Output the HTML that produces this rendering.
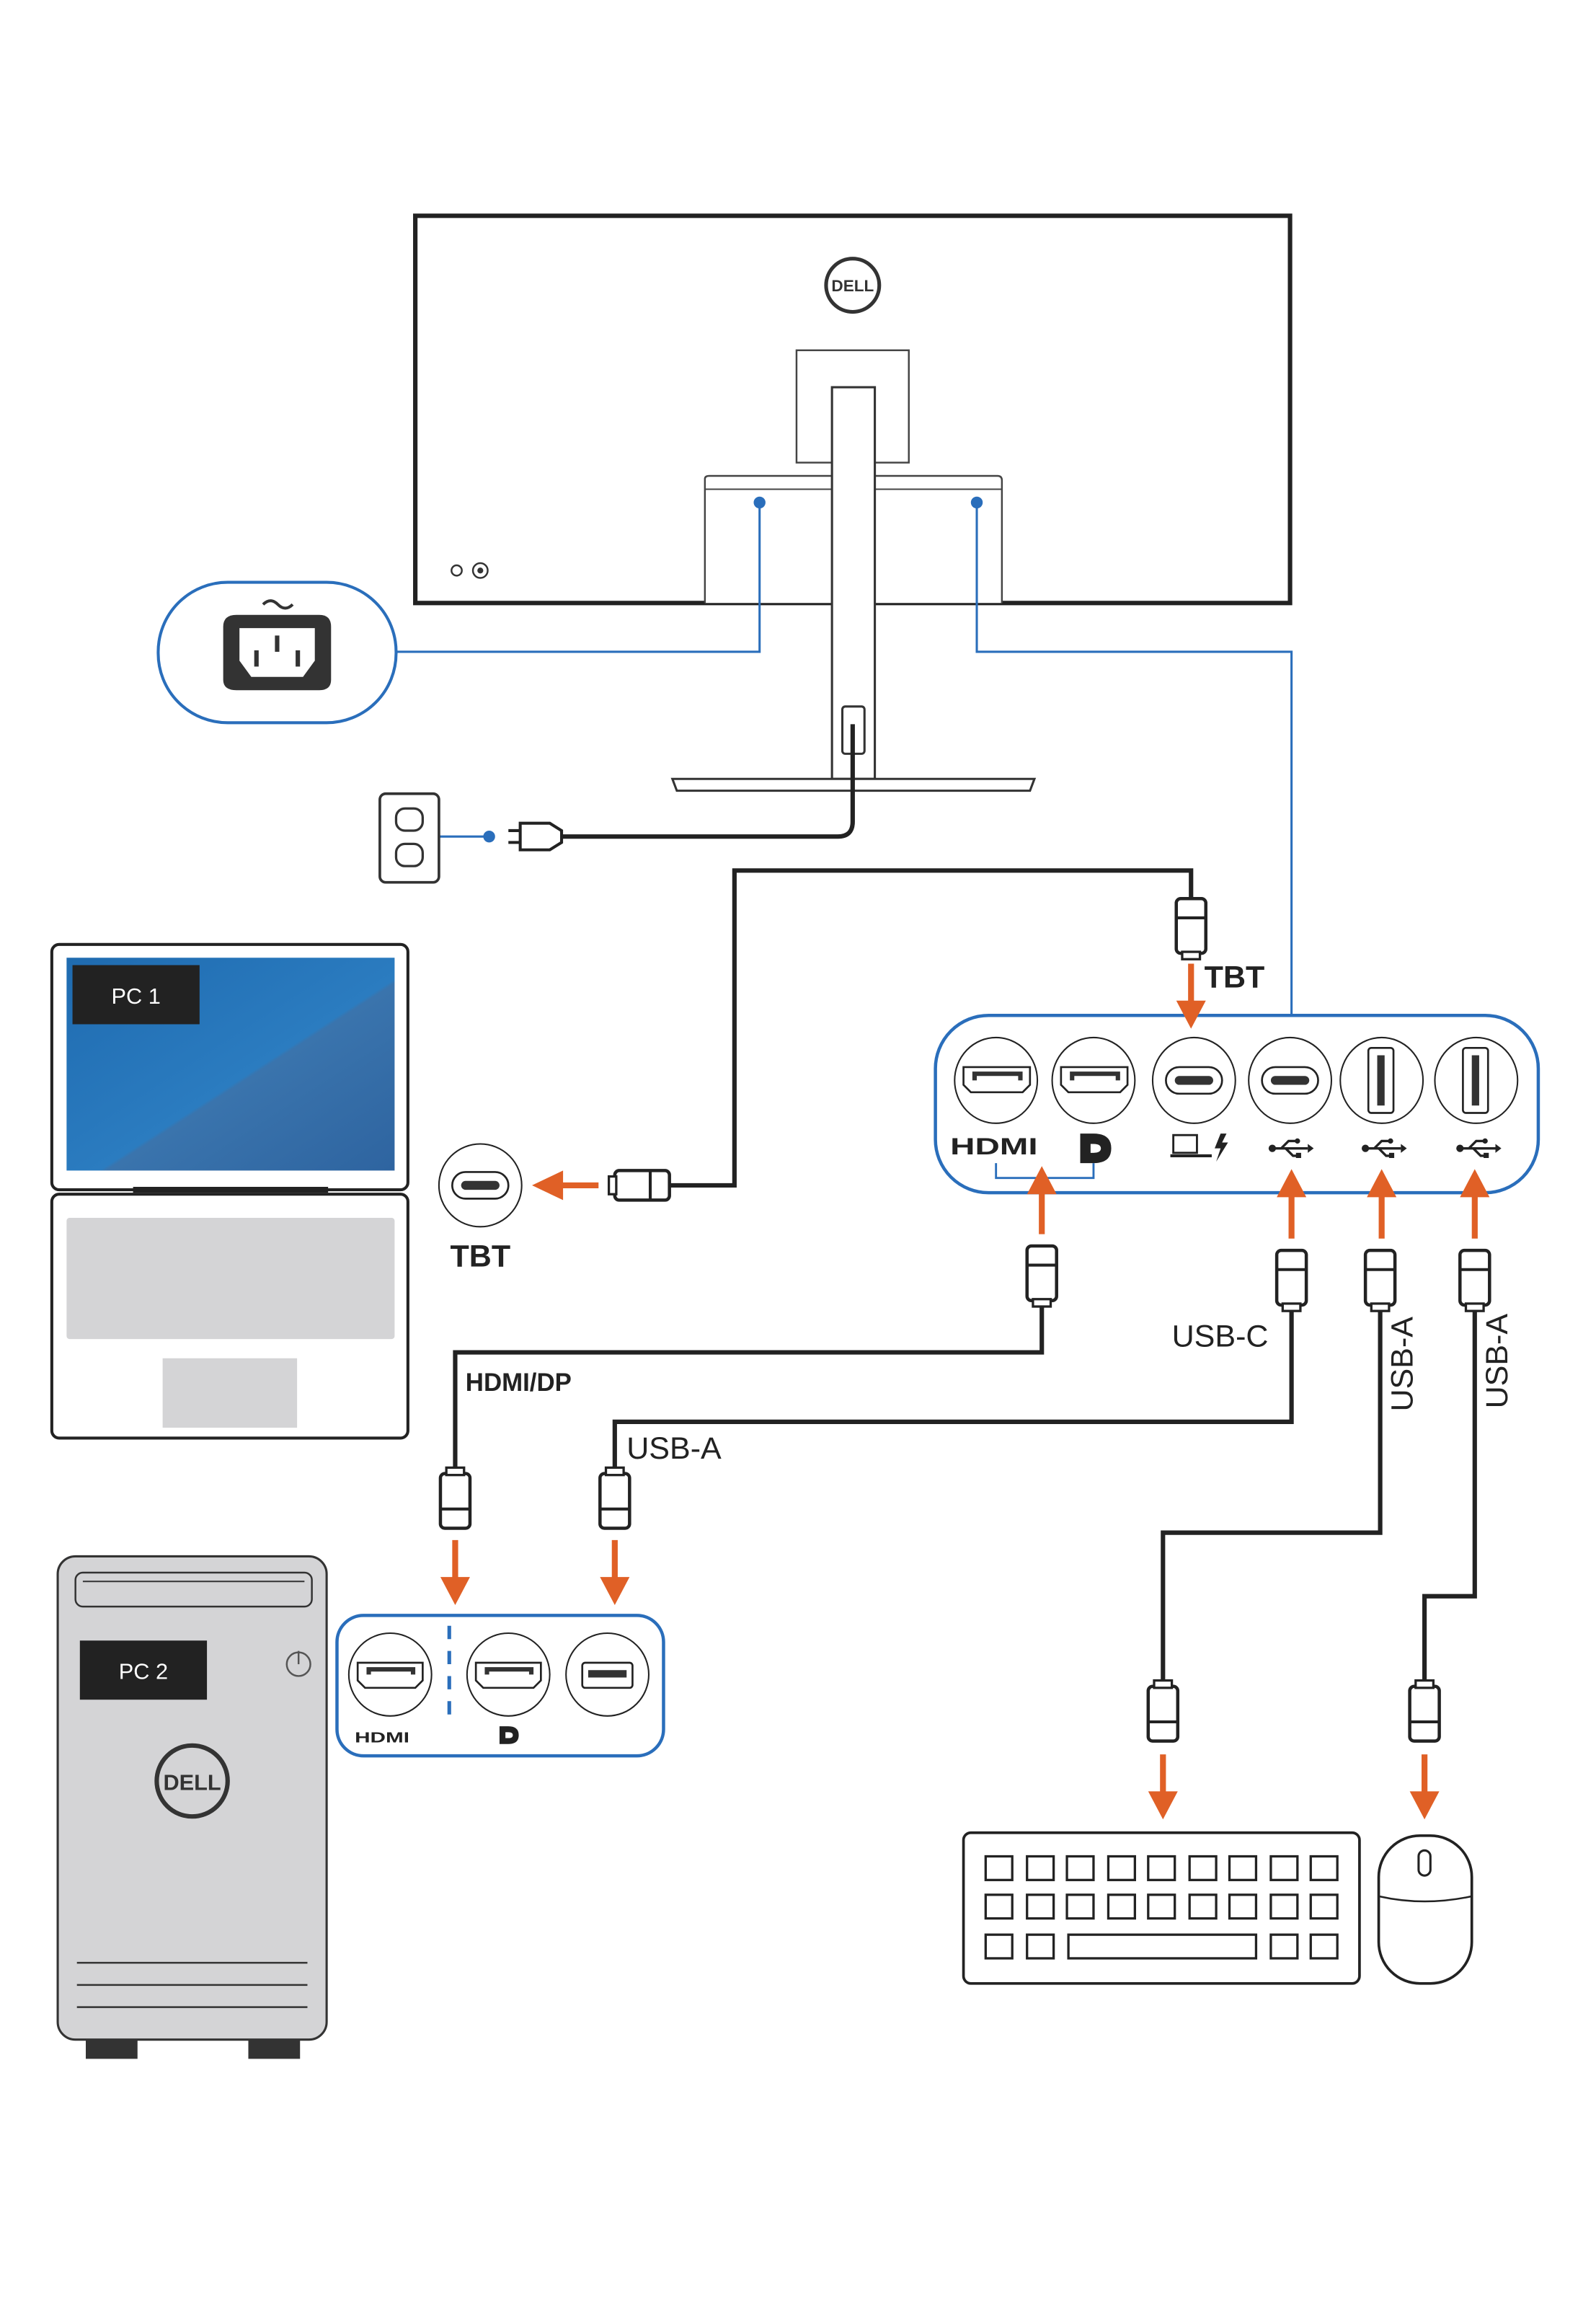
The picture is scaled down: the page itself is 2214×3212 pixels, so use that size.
<!DOCTYPE html>
<html><head><meta charset="utf-8"><style>html,body{margin:0;padding:0;background:#fff}svg{display:block}</style></head>
<body>
<svg width="2214" height="3212" viewBox="0 0 1080 1567" xmlns="http://www.w3.org/2000/svg" font-family="Liberation Sans, sans-serif">
<defs>
<g id="conV"><rect x="-10" y="0" width="20" height="37" rx="3" fill="#fff" stroke="#222" stroke-width="2.2"/><line x1="-10" y1="24" x2="10" y2="24" stroke="#222" stroke-width="2"/><rect x="-6" y="-4" width="12" height="5" fill="#fff" stroke="#222" stroke-width="1.6"/></g>
<g id="usbsym" fill="#222" stroke="#222"><line x1="-11" y1="0" x2="13" y2="0" stroke-width="1.6"/><circle cx="-11" cy="0" r="2.5" stroke="none"/><path d="M13,-3 L17,0 L13,3Z" stroke="none"/><path d="M-5,0 L0,-5 L5,-5" fill="none" stroke-width="1.6"/><circle cx="6" cy="-5" r="1.8" stroke="none"/><path d="M-2,0 L3,5 L6,5" fill="none" stroke-width="1.6"/><rect x="5" y="3" width="3.5" height="3.5" stroke="none"/></g>
</defs>
<rect width="1080" height="1567" fill="#fff"/>
<!-- monitor -->
<rect x="281" y="146" width="592" height="262" fill="#fff" stroke="#222" stroke-width="3"/>
<circle cx="577" cy="193" r="18" fill="#fff" stroke="#333" stroke-width="2.5"/>
<text x="577" y="197" font-size="11" font-weight="bold" text-anchor="middle" fill="#333">DELL</text>
<rect x="539" y="237" width="76" height="76" fill="#fff" stroke="#444" stroke-width="1.2"/>
<path d="M477,408 V324 Q477,322 480,322 H675 Q678,322 678,325 V408" fill="#fff" stroke="#444" stroke-width="1.2"/>
<line x1="477" y1="331" x2="678" y2="331" stroke="#444" stroke-width="1"/>
<rect x="563" y="262" width="29" height="265" fill="#fff" stroke="#333" stroke-width="1.5"/>
<path d="M455,527 H700 L697,535 H458Z" fill="#fff" stroke="#333" stroke-width="1.5"/>
<rect x="570" y="478" width="15" height="32" rx="2" fill="#fff" stroke="#333" stroke-width="1.5"/>
<circle cx="309" cy="386" r="3.5" fill="none" stroke="#333" stroke-width="1.2"/><circle cx="325" cy="386" r="5" fill="none" stroke="#333" stroke-width="1.2"/><circle cx="325" cy="386" r="2" fill="#333"/>
<!-- blue lines -->
<g stroke="#2a6ebb" stroke-width="1.5" fill="none">
<path d="M268,441 H514 V340"/>
<path d="M661,340 V441 H874 V687"/>
<path d="M297,566 H331"/>
</g>
<circle cx="514" cy="340" r="4" fill="#2a6ebb"/><circle cx="661" cy="340" r="4" fill="#2a6ebb"/><circle cx="331" cy="566" r="4" fill="#2a6ebb"/>
<!-- power callout -->
<rect x="107" y="394" width="161" height="95" rx="47" fill="#fff" stroke="#2a6ebb" stroke-width="2"/>
<path d="M160,416 H216 Q224,416 224,424 V460 Q224,467 216,467 H160 Q151,467 151,460 V424 Q151,416 160,416Z" fill="#333"/>
<path d="M162,425 H213 V447 L205,458 H170 L162,447Z" fill="#fff"/>
<rect x="172" y="440" width="3" height="11" fill="#333"/><rect x="186" y="430" width="3" height="11" fill="#333"/><rect x="200" y="440" width="3" height="11" fill="#333"/>
<path d="M178,409 q5,-5 10,0 t10,0" fill="none" stroke="#333" stroke-width="2"/>
<!-- outlet & plug -->
<rect x="257" y="537" width="40" height="60" rx="4" fill="#fff" stroke="#333" stroke-width="1.8"/>
<rect x="268" y="547" width="18" height="15" rx="6" fill="#fff" stroke="#333" stroke-width="1.6"/>
<rect x="268" y="571" width="18" height="15" rx="6" fill="#fff" stroke="#333" stroke-width="1.6"/>
<path d="M577,490 V556 Q577,566 567,566 H380" fill="none" stroke="#222" stroke-width="3"/>
<path d="M352,557 H372 L380,562 V570 L372,575 H352Z" fill="#fff" stroke="#222" stroke-width="2"/>
<line x1="344" y1="562" x2="352" y2="562" stroke="#222" stroke-width="2"/><line x1="344" y1="570" x2="352" y2="570" stroke="#222" stroke-width="2"/>
<!-- cables -->
<g fill="none" stroke="#222" stroke-width="3">
<path d="M806,610 V589 H497 V802 H453"/>
<path d="M705,880 V915 H308 V997"/>
<path d="M874,883 V962 H416 V997"/>
<path d="M934,883 V1037 H787 V1141"/>
<path d="M998,883 V1080 H964 V1141"/>
</g>
<!-- connectors -->
<g transform="translate(806,645) rotate(180)"><use href="#conV"/></g>
<g transform="translate(416,802) rotate(-90)"><use href="#conV"/></g>
<g transform="translate(705,880) rotate(180)"><use href="#conV"/></g>
<g transform="translate(874,883) rotate(180)"><use href="#conV"/></g>
<g transform="translate(934,883) rotate(180)"><use href="#conV"/></g>
<g transform="translate(998,883) rotate(180)"><use href="#conV"/></g>
<g transform="translate(308,997)"><use href="#conV"/></g>
<g transform="translate(416,997)"><use href="#conV"/></g>
<g transform="translate(787,1141)"><use href="#conV"/></g>
<g transform="translate(964,1141)"><use href="#conV"/></g>
<!-- labels -->
<g font-weight="bold" fill="#222">
<text x="815" y="668" font-size="21">TBT</text>
<text x="325" y="857" font-size="21" text-anchor="middle">TBT</text>
<text x="315" y="941" font-size="17">HDMI/DP</text>
</g>
<g fill="#222" font-size="21">
<text x="793" y="911">USB-C</text>
<text x="424" y="987">USB-A</text>
<text transform="translate(956,955) rotate(-90)">USB-A</text>
<text transform="translate(1020,953) rotate(-90)">USB-A</text>
</g>
<!-- monitor panel -->
<rect x="633" y="687" width="408" height="120" rx="36" fill="#fff" stroke="#2a6ebb" stroke-width="2.2"/>
<g fill="#fff" stroke="#222" stroke-width="1">
<ellipse cx="674" cy="731" rx="28" ry="29"/><ellipse cx="740" cy="731" rx="28" ry="29"/><ellipse cx="808" cy="731" rx="28" ry="29"/><ellipse cx="873" cy="731" rx="28" ry="29"/><ellipse cx="935" cy="731" rx="28" ry="29"/><ellipse cx="999" cy="731" rx="28" ry="29"/>
</g>
<g fill="#fff" stroke="#222" stroke-width="1.3">
<path d="M652,722 H697 V734 L692,739 H657 L652,734Z"/><path d="M718,722 H763 V734 L758,739 H723 L718,734Z"/>
<rect x="789" y="722" width="38" height="18" rx="9"/><rect x="854" y="722" width="38" height="18" rx="9"/>
<rect x="926" y="709" width="17" height="44" rx="2"/><rect x="990" y="709" width="17" height="44" rx="2"/>
</g>
<g fill="#333"><path d="M658,725 H692 V731 H689 V728 H661 V731 H658Z"/><path d="M724,725 H758 V731 H755 V728 H727 V731 H724Z"/>
<rect x="795" y="728" width="26" height="6" rx="3"/><rect x="860" y="728" width="26" height="6" rx="3"/>
<rect x="932" y="714" width="5" height="34"/><rect x="996" y="714" width="5" height="34"/></g>
<text transform="translate(643,781) scale(1.45,1)" font-size="16" font-weight="900" fill="#222">HDMI</text>
<path d="M731,767 H740 Q752,767 752,777 Q752,787 740,787 H737 V780 H740 Q745,780 745,777 Q745,774 740,774 H738 V787 H731Z" fill="#222"/>
<rect x="794" y="768" width="16" height="12" fill="none" stroke="#222" stroke-width="1.4"/><line x1="792" y1="782" x2="820" y2="782" stroke="#222" stroke-width="2"/>
<path d="M826,767 L822,777 L826,777 L823,786 L831,773 L827,773 L830,767Z" fill="#222"/>
<use href="#usbsym" x="872" y="777"/><use href="#usbsym" x="935" y="777"/><use href="#usbsym" x="999" y="777"/>
<path d="M674,787 V797 H740 V787" fill="none" stroke="#2a6ebb" stroke-width="1.4"/>
<!-- TBT port PC1 -->
<circle cx="325" cy="802" r="28" fill="#fff" stroke="#222" stroke-width="1"/>
<rect x="306" y="793" width="38" height="18" rx="9" fill="#fff" stroke="#222" stroke-width="1.3"/><rect x="312" y="799" width="26" height="6" rx="3" fill="#333"/>
<!-- laptop -->
<rect x="35" y="639" width="241" height="166" rx="5" fill="#fff" stroke="#222" stroke-width="2"/>
<defs><linearGradient id="scr" x1="0" y1="0" x2="1" y2="1"><stop offset="0" stop-color="#1f6bb0"/><stop offset="0.55" stop-color="#2b7cc0"/><stop offset="0.56" stop-color="#3a74ad"/><stop offset="1" stop-color="#2e64a0"/></linearGradient></defs>
<rect x="45" y="648" width="222" height="144" fill="url(#scr)"/>
<rect x="49" y="653" width="86" height="40" fill="#222"/>
<text x="92" y="679" font-size="15" fill="#fff" text-anchor="middle">PC 1</text>
<line x1="90" y1="805" x2="222" y2="805" stroke="#222" stroke-width="4"/>
<rect x="35" y="808" width="241" height="165" rx="5" fill="#fff" stroke="#222" stroke-width="2"/>
<rect x="45" y="824" width="222" height="82" rx="2" fill="#d4d4d6"/>
<rect x="110" y="919" width="91" height="47" fill="#d4d4d6"/>
<!-- PC2 panel -->
<rect x="228" y="1093" width="221" height="95" rx="18" fill="#fff" stroke="#2a6ebb" stroke-width="2.2"/>
<g fill="#fff" stroke="#222" stroke-width="1"><circle cx="264" cy="1133" r="28"/><circle cx="344" cy="1133" r="28"/><circle cx="411" cy="1133" r="28"/></g>
<g fill="#fff" stroke="#222" stroke-width="1.3"><path d="M242,1125 H286 V1137 L281,1142 H247 L242,1137Z"/><path d="M322,1125 H366 V1137 L361,1142 H327 L322,1137Z"/><rect x="394" y="1125" width="34" height="17" rx="2"/></g>
<g fill="#333"><path d="M248,1128 H281 V1133 H278 V1131 H251 V1133 H248Z"/><path d="M328,1128 H361 V1133 H358 V1131 H331 V1133 H328Z"/><rect x="398" y="1130" width="26" height="5"/></g>
<line x1="304" y1="1100" x2="304" y2="1162" stroke="#2a6ebb" stroke-width="2.5" stroke-dasharray="9,8"/>
<text transform="translate(240,1179) scale(1.45,1)" font-size="10" font-weight="900" fill="#222">HDMI</text>
<path d="M338,1168 H344 Q351,1168 351,1174 Q351,1180 344,1180 H342 V1176 H344 Q347,1176 347,1174 Q347,1172 344,1172 H342 V1180 H338Z" fill="#222"/>
<!-- tower -->
<rect x="39" y="1053" width="182" height="327" rx="12" fill="#d4d4d6" stroke="#333" stroke-width="1.5"/>
<rect x="51" y="1064" width="160" height="23" rx="5" fill="#d4d4d6" stroke="#333" stroke-width="1.2"/>
<line x1="56" y1="1070" x2="206" y2="1070" stroke="#333" stroke-width="1"/>
<rect x="54" y="1110" width="86" height="40" fill="#222"/>
<text x="97" y="1136" font-size="15" fill="#fff" text-anchor="middle">PC 2</text>
<circle cx="202" cy="1126" r="8" fill="none" stroke="#555" stroke-width="1.2"/><line x1="202" y1="1117" x2="202" y2="1126" stroke="#555" stroke-width="1.2"/>
<circle cx="130" cy="1205" r="24" fill="none" stroke="#333" stroke-width="3"/>
<text x="130" y="1211" font-size="15" font-weight="bold" text-anchor="middle" fill="#333">DELL</text>
<g stroke="#333" stroke-width="1.2"><line x1="52" y1="1328" x2="208" y2="1328"/><line x1="52" y1="1343" x2="208" y2="1343"/><line x1="52" y1="1358" x2="208" y2="1358"/></g>
<rect x="58" y="1380" width="35" height="13" fill="#333"/><rect x="168" y="1380" width="35" height="13" fill="#333"/>
<!-- keyboard -->
<rect x="652" y="1240" width="268" height="102" rx="5" fill="#fff" stroke="#222" stroke-width="1.8"/>
<g fill="#fff" stroke="#222" stroke-width="1.6">
<rect x="667" y="1256" width="18" height="16"/><rect x="695" y="1256" width="18" height="16"/><rect x="722" y="1256" width="18" height="16"/><rect x="750" y="1256" width="18" height="16"/><rect x="777" y="1256" width="18" height="16"/><rect x="805" y="1256" width="18" height="16"/><rect x="832" y="1256" width="18" height="16"/><rect x="860" y="1256" width="18" height="16"/><rect x="887" y="1256" width="18" height="16"/>
<rect x="667" y="1282" width="18" height="16"/><rect x="695" y="1282" width="18" height="16"/><rect x="722" y="1282" width="18" height="16"/><rect x="750" y="1282" width="18" height="16"/><rect x="777" y="1282" width="18" height="16"/><rect x="805" y="1282" width="18" height="16"/><rect x="832" y="1282" width="18" height="16"/><rect x="860" y="1282" width="18" height="16"/><rect x="887" y="1282" width="18" height="16"/>
<rect x="667" y="1309" width="18" height="16"/><rect x="695" y="1309" width="18" height="16"/><rect x="723" y="1309" width="127" height="16"/><rect x="860" y="1309" width="18" height="16"/><rect x="887" y="1309" width="18" height="16"/>
</g>
<!-- mouse -->
<rect x="933" y="1242" width="63" height="100" rx="28" fill="#fff" stroke="#222" stroke-width="1.8"/>
<path d="M933,1283 Q964,1290 996,1283" fill="none" stroke="#222" stroke-width="1.2"/>
<rect x="960" y="1252" width="8" height="17" rx="4" fill="#fff" stroke="#222" stroke-width="1.5"/>
<!-- orange arrows (on top) -->
<g stroke="#e06026" stroke-width="4" fill="#e06026">
<line x1="806" y1="652" x2="806" y2="680"/><path d="M796,677 L816,677 L806,696Z" stroke="none"/>
<line x1="405" y1="802" x2="378" y2="802"/><path d="M381,792 L381,812 L360,802Z" stroke="none"/>
<line x1="705" y1="835" x2="705" y2="805"/><path d="M695,808 L715,808 L705,789Z" stroke="none"/>
<line x1="874" y1="838" x2="874" y2="807"/><path d="M864,810 L884,810 L874,791Z" stroke="none"/>
<line x1="935" y1="838" x2="935" y2="807"/><path d="M925,810 L945,810 L935,791Z" stroke="none"/>
<line x1="998" y1="838" x2="998" y2="807"/><path d="M988,810 L1008,810 L998,791Z" stroke="none"/>
<line x1="308" y1="1042" x2="308" y2="1070"/><path d="M298,1067 L318,1067 L308,1086Z" stroke="none"/>
<line x1="416" y1="1042" x2="416" y2="1070"/><path d="M406,1067 L426,1067 L416,1086Z" stroke="none"/>
<line x1="787" y1="1187" x2="787" y2="1215"/><path d="M777,1212 L797,1212 L787,1231Z" stroke="none"/>
<line x1="964" y1="1187" x2="964" y2="1215"/><path d="M954,1212 L974,1212 L964,1231Z" stroke="none"/>
</g>
</svg>
</body></html>
